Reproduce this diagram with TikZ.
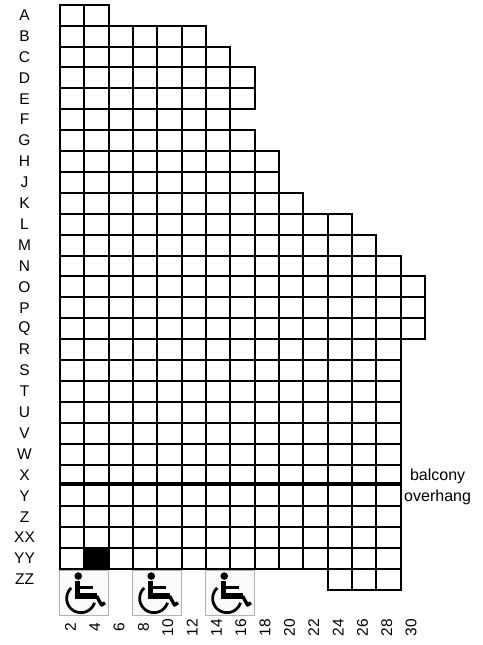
\documentclass[tikz,border=0pt]{standalone}
\usepackage{fontspec}
\setmainfont{Liberation Sans}
\tikzset{
  cell/.style={draw=black, line width=2pt},
  rowlabel/.style={inner sep=0pt, font=\fontsize{15.5}{18}\selectfont},
  collabel/.style={inner sep=0pt, rotate=90, font=\fontsize{15.5}{18}\selectfont},
  notelabel/.style={inner sep=0pt, anchor=base, font=\fontsize{16}{18}\selectfont},
  wheelbox/.pic={
    \begin{scope}[x=1pt, y=-1pt]
      \draw[draw=gray!60, fill=gray!4, line width=1pt] (0,0) rectangle (49,45);
      \fill (19,6) circle (3.8);
      \draw[line width=5.2pt] (18,11) -- (18,26) -- (37.3,26);
      \draw[line width=3.4pt, line join=round] (37.3,26) -- (42.3,35) -- (45.7,32.7);
      \draw[line width=3.2pt] (18,17.3) -- (34,17.3);
      \draw[line width=2.8pt] (21.7,28.3) ++(227:14.3) arc[start angle=227, end angle=18, radius=14.3];
    \end{scope}
  }
}
\begin{document}
\begin{tikzpicture}[x=24.33pt, y=-20.9pt]
    \useasboundingbox (-2.466,-0.225) rectangle (17.345,30.636);
    \foreach \x/\name in {0/a,3/b,6/c} {\pic (chair-\name) at (\x-0.03,27.05) {wheelbox};}
    \foreach \lab/\first/\last [count=\row from 0] in {A/0/2,B/0/6,C/0/7,D/0/8,E/0/8,F/0/7,G/0/8,H/0/9,J/0/9,K/0/10,L/0/12,M/0/13,N/0/14,O/0/15,P/0/15,Q/0/15,R/0/14,S/0/14,T/0/14,U/0/14,V/0/14,W/0/14,X/0/14,Y/0/14,Z/0/14,XX/0/14,YY/0/14,ZZ/11/14} {
      \pgfmathtruncatemacro{\stop}{\last-1}
      \foreach \x in {\first,...,\stop} {\draw[cell] (\x,\row) rectangle +(1,1);}
      \node[rowlabel] (row-\lab) at (-1.459,\row+0.5) {\lab};
    }
    \fill (1,26) rectangle (2,27);
    \draw[line width=4.6pt] (0,22.93) -- (14,22.93);
    \foreach \n [count=\i from 0] in {2,4,...,30} {\node[collabel] (col-\n) at (\i+0.43,29.8) {\n};}
    \node[notelabel] (balcony) at (15.52,22.77) {balcony};
    \node[notelabel] (overhang) at (15.52,23.75) {overhang};
  \end{tikzpicture}
\end{document}
